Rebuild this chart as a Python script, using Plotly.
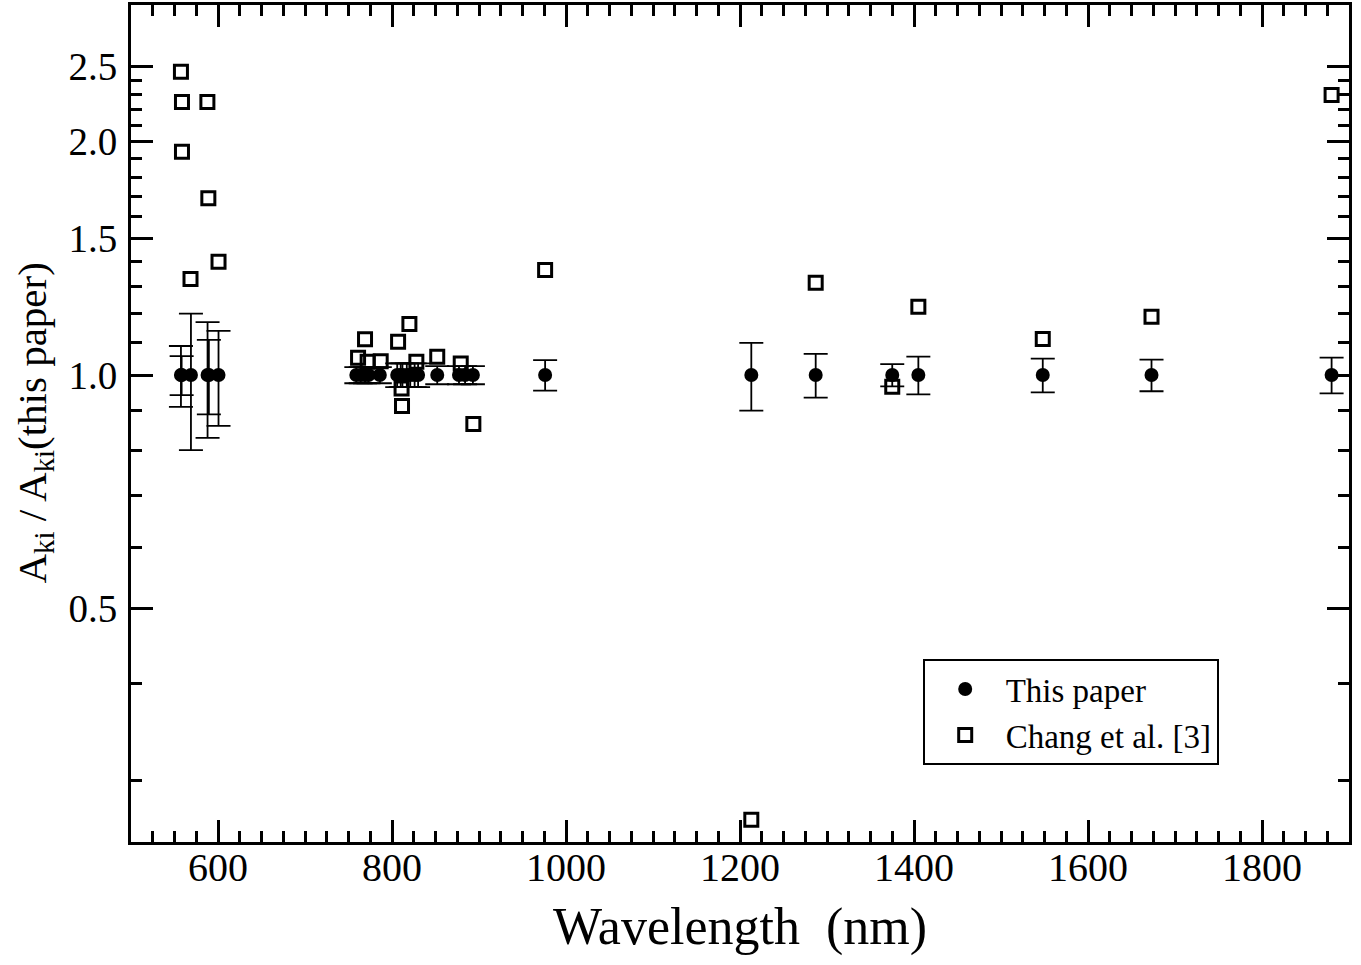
import plotly.graph_objects as go
import math

# ---- data ----
# This paper: ratio is 1 by definition, with relative uncertainties
paper_wavelength = [557.4, 558.2, 568.9, 588.0, 589.5, 600.6,
                    759.0, 764.0, 769.0, 773.0, 786.0,
                    806.0, 810.0, 812.0, 817.0, 821.0, 826.0, 830.0,
                    852.0, 877.0, 884.0, 893.0,
                    976.0, 1213.0, 1287.0, 1375.0, 1405.0, 1548.0, 1673.0, 1880.0]
paper_ratio = [1.0, 1.0, 1.0, 1.0, 1.0, 1.0,
               1.0, 1.0, 1.0, 1.0, 1.0,
               1.0, 1.0, 1.0, 1.0, 1.0, 1.0, 1.0,
               1.0, 1.0, 1.0, 1.0,
               1.0, 1.0, 1.0, 1.0, 1.0, 1.0, 1.0, 1.0]
paper_error = [0.090, 0.058, 0.200, 0.170, 0.110, 0.140,
               0.024, 0.024, 0.024, 0.024, 0.024,
               0.035, 0.035, 0.035, 0.035, 0.035, 0.035, 0.035,
               0.027, 0.027, 0.027, 0.027,
               0.045, 0.100, 0.065, 0.033, 0.056, 0.050, 0.047, 0.053]

# Chang et al. [3]
chang_wavelength = [557.4, 558.6, 558.6, 568.4, 587.8, 588.9, 600.6,
                    761.0, 769.0, 772.0, 787.0, 807.0, 811.0, 811.5, 820.0,
                    828.0, 852.0, 879.0, 893.5,
                    976.0, 1213.0, 1287.0, 1375.0, 1405.0, 1548.0, 1673.0, 1880.0]
chang_ratio = [2.46, 2.25, 1.94, 1.33, 2.25, 1.69, 1.40,
               1.053, 1.112, 1.040, 1.042, 1.104, 0.961, 0.912, 1.164,
               1.040, 1.056, 1.035, 0.865,
               1.366, 0.267, 1.315, 0.966, 1.225, 1.113, 1.189, 2.297]

# axis ticks
x_major_ticks = [600, 800, 1000, 1200, 1400, 1600, 1800]
y_major_ticks = [0.5, 1.0, 1.5, 2.0, 2.5]
y_major_labels = ["0.5", "1.0", "1.5", "2.0", "2.5"]
y_minor_ticks = [0.3, 0.4, 0.6, 0.7, 0.8, 0.9,
                 1.1, 1.2, 1.3, 1.4, 1.6, 1.7, 1.8, 1.9,
                 2.1, 2.2, 2.3, 2.4]
x_range = [500, 1900]
y_range = [0.25, 3.0]

FONT = "Liberation Serif, Times New Roman, serif"

fig = go.Figure()

fig.add_trace(go.Scatter(
    x=paper_wavelength, y=paper_ratio, mode="markers", name="This paper",
    marker=dict(symbol="circle", size=14, color="black"),
    error_y=dict(type="data", array=paper_error, visible=True,
                 color="black", thickness=1.8, width=12),
))

fig.add_trace(go.Scatter(
    x=chang_wavelength, y=chang_ratio, mode="markers", name="Chang et al. [3]",
    marker=dict(symbol="square-open", size=13, color="black",
                line=dict(color="black", width=3)),
))

fig.update_layout(
    width=1361, height=965,
    margin=dict(l=131, r=12, t=5, b=123, autoexpand=False),
    paper_bgcolor="white", plot_bgcolor="white",
    font=dict(family=FONT, color="black"),
    showlegend=True,
    legend=dict(x=0.65, y=0.2186, xanchor="left", yanchor="top",
                bgcolor="white", bordercolor="black", borderwidth=2,
                itemwidth=71,
                font=dict(family=FONT, size=33, color="black")),
    annotations=[dict(
        text="A<sub>ki</sub> / A<sub>ki</sub>(this paper)",
        xref="paper", yref="paper", x=0, y=0.5, xanchor="center", yanchor="middle",
        xshift=-97, textangle=-90, showarrow=False,
        font=dict(family=FONT, size=41, color="black"),
    )],
)

fig.update_xaxes(
    range=x_range, tickmode="array", tickvals=x_major_ticks,
    ticks="inside", ticklen=22, tickwidth=2.5, tickcolor="black",
    showline=True, linewidth=3, linecolor="black", mirror="allticks",
    showgrid=False, zeroline=False, automargin=False,
    ticklabelstandoff=-12,
    tickfont=dict(family=FONT, size=40, color="black"),
    minor=dict(dtick=25, tick0=500, ticks="inside", ticklen=11, tickwidth=2.5,
               tickcolor="black", showgrid=False),
    title=dict(text="Wavelength\u00a0 (nm)", font=dict(family=FONT, size=52, color="black"),
               standoff=19),
)

fig.update_yaxes(
    type="log", range=[math.log10(y_range[0]), math.log10(y_range[1])],
    tickmode="array", tickvals=y_major_ticks, ticktext=y_major_labels,
    ticks="inside", ticklen=22, tickwidth=2.5, tickcolor="black",
    showline=True, linewidth=3, linecolor="black", mirror="allticks",
    showgrid=False, zeroline=False, automargin=False,
    ticklabelstandoff=3,
    tickfont=dict(family=FONT, size=39, color="black"),
    minor=dict(tickmode="array", tickvals=y_minor_ticks, ticks="inside",
               ticklen=11, tickwidth=2.5, tickcolor="black", showgrid=False),
)

fig.write_html("out.html", config={"displayModeBar": False},
               post_script="document.body.style.margin='0px';document.body.style.overflow='hidden';")
